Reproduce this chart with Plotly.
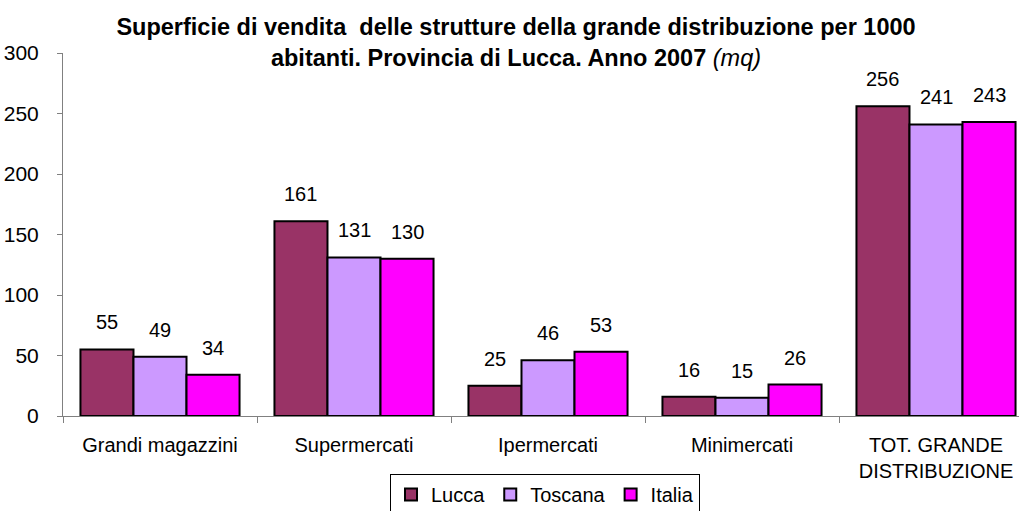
import plotly.graph_objects as go

categories = ["Grandi magazzini", "Supermercati", "Ipermercati", "Minimercati", "TOT. GRANDE<br>DISTRIBUZIONE"]
series_names = ["Lucca", "Toscana", "Italia"]
lucca = [55, 161, 25, 16, 256]
toscana = [49, 131, 46, 15, 241]
italia = [34, 130, 53, 26, 243]
colors = ["#993366", "#CC99FF", "#FF00FF"]
y_ticks = [0, 50, 100, 150, 200, 250, 300]

W, H = 1019, 511
ML, MR, MT, MB = 63, 0, 53, 95
plot_w = W - ML - MR
plot_h = H - MT - MB
cat_px = 194.0
x_range = [-0.5, -0.5 + plot_w / cat_px]
bargap = 0.18
bar_px = (1 - bargap) / 3 * cat_px

FONT = "Liberation Sans, Arial, sans-serif"

fig = go.Figure()
all_vals = [lucca, toscana, italia]
for name, vals, col in zip(series_names, all_vals, colors):
    fig.add_trace(go.Bar(
        x=categories, y=vals, name=name,
        marker=dict(color=col, line=dict(color="black", width=2)),
    ))

annotations = []
for i, vals in enumerate(all_vals):
    for cat, v in zip(categories, vals):
        annotations.append(dict(
            x=cat, y=v, xref="x", yref="y", text=str(v), showarrow=False,
            xshift=(i - 1) * bar_px, yshift=27, yanchor="middle",
            font=dict(family=FONT, size=20, color="black"),
        ))

fig.update_layout(
    width=W, height=H,
    margin=dict(l=ML, r=MR, t=MT, b=MB, autoexpand=False),
    paper_bgcolor="white", plot_bgcolor="white",
    barmode="group", bargap=bargap, bargroupgap=0,
    font=dict(family=FONT, size=20, color="black"),
    title=dict(
        text="<b>Superficie di vendita  delle strutture della grande distribuzione per 1000<br>abitanti. Provincia di Lucca. Anno 2007</b> <i>(mq)</i>",
        x=516 / W, xanchor="center", xref="container",
        y=1 - 35 / H, yanchor="middle", yref="container",
        font=dict(family=FONT, size=23.5, color="black"),
    ),
    xaxis=dict(
        range=x_range, showline=True, linecolor="#808080", linewidth=1,
        ticks="outside", tickson="boundaries", ticklen=6, tickcolor="#808080",
        showgrid=False, zeroline=False, ticklabelstandoff=11, automargin=False,
        tickfont=dict(family=FONT, size=20, color="black"),
    ),
    yaxis=dict(
        range=[0, 300], tickvals=y_ticks, showline=True, linecolor="#808080", linewidth=1,
        ticks="outside", ticklen=5, tickcolor="#808080", showgrid=False, zeroline=False,
        ticklabelstandoff=14, automargin=False,
        tickfont=dict(family=FONT, size=21, color="black"),
    ),
    legend=dict(
        orientation="h", x=545 / W, xanchor="center", xref="container",
        y=(H - MB - 474) / plot_h, yanchor="top",
        bordercolor="black", borderwidth=1, bgcolor="white",
        font=dict(family=FONT, size=20, color="black"),
        itemwidth=30, tracegroupgap=0,
    ),
    annotations=annotations,
)

fig.write_html(
    "out.html",
    config={"displayModeBar": False},
    post_script="document.body.style.margin='0';document.body.style.overflow='hidden';",
)
